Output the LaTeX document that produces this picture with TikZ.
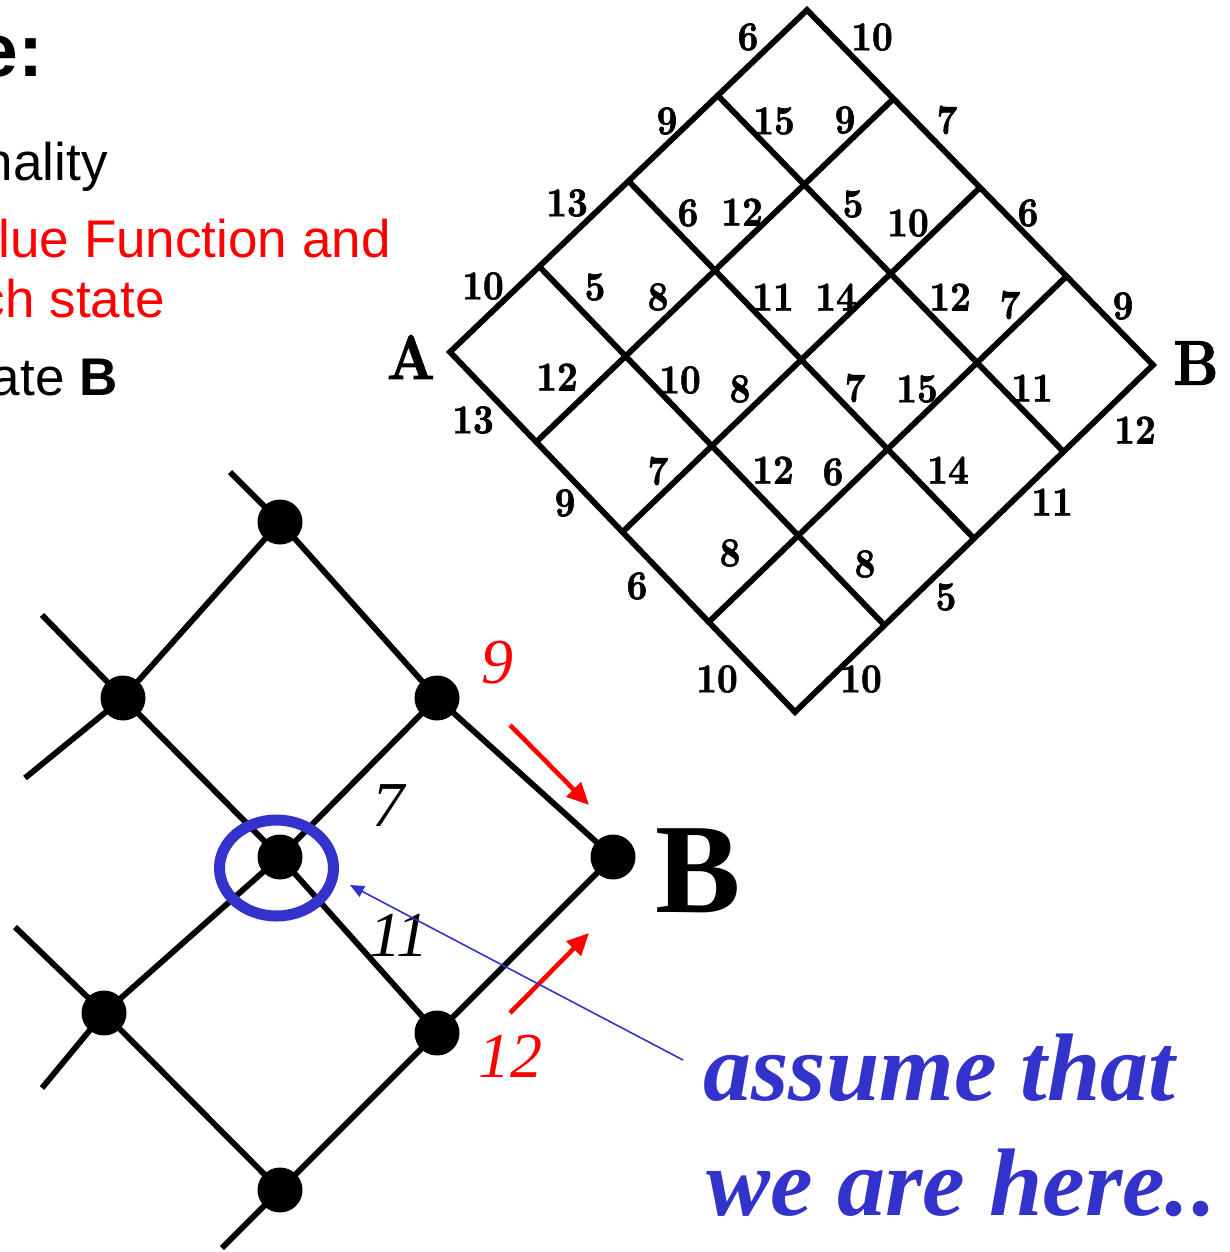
\documentclass[tikz,border=0pt]{standalone}
\usepackage{fontspec}
\usepackage{graphicx}
\usetikzlibrary{arrows.meta,shapes.geometric}
\newfontfamily\arialf{Liberation Sans}
\newfontfamily\timesf{Liberation Serif}
\newfontfamily\gridf{lmroman10-bold.otf}[FakeBold=1.6]
\definecolor{myblue}{RGB}{51,51,204}
\newcommand\gn[1]{\scalebox{0.88}[1]{#1}}
\begin{document}
\begin{tikzpicture}[x=0.5pt,y=-0.5pt,
  gridline/.style={line width=2.9pt, line join=miter},
  gnum/.style={inner sep=0pt, font=\gridf\fontsize{20.5}{24}\selectfont},
  cornerlbl/.style={inner sep=0pt, font=\gridf\fontsize{31.5}{36}\selectfont},
  dot/.style={circle, fill=black, inner sep=0pt, minimum size=22.5pt},
  edgeline/.style={line width=2.9pt},
  itnum/.style={inner sep=0pt, font=\timesf\itshape\fontsize{32}{36}\selectfont},
  redarrow/.style={draw=red, line width=2.3pt, -{Triangle[length=11pt,width=10pt]}},
  bluearrow/.style={draw=myblue, line width=0.8pt, -{Triangle[length=7pt,width=6pt]}},
  slide/.style={inner sep=0pt, font=\arialf\fontsize{26.5}{30}\selectfont, anchor=base east},
  bluetext/.style={inner sep=0pt, text=myblue, font=\timesf\bfseries\itshape\fontsize{48}{52}\selectfont, anchor=base west}]
\useasboundingbox (0,0) rectangle (1230,1252);
\clip (0,0) rectangle (1230,1252);

% ---------- slide text (cropped) ----------
\node[slide, font=\arialf\bfseries\fontsize{37.5}{40}\selectfont] (t0) at (44,76) {e:};
\node[slide] (t1) at (108,180) {nality};
\node[slide, text=red] (t2) at (391,257) {lue Function and};
\node[slide, text=red] (t3) at (165,317) {ch state};
\node[slide] (t4) at (118,395) {ate \textbf{B}};

% ---------- big grid ----------
\coordinate (L0) at (450,352);   \coordinate (L1) at (539.25,266.5);
\coordinate (L2) at (628.5,181); \coordinate (L3) at (717.75,95.5);
\coordinate (L4) at (807,10);
\coordinate (R0) at (795,712);   \coordinate (R1) at (884.5,625.25);
\coordinate (R2) at (974,538.5); \coordinate (R3) at (1063.5,451.75);
\coordinate (R4) at (1153,365);
\coordinate (P0) at (450,352);   \coordinate (P1) at (536.25,442);
\coordinate (P2) at (622.5,532); \coordinate (P3) at (708.75,622);
\coordinate (P4) at (795,712);
\coordinate (Q0) at (807,10);    \coordinate (Q1) at (893.5,98.75);
\coordinate (Q2) at (980,187.5); \coordinate (Q3) at (1066.5,276.25);
\coordinate (Q4) at (1153,365);

\draw[gridline] (L0) -- (L4) -- (Q4) -- (R0) -- cycle;
\draw[gridline] (L1) -- (R1) (L2) -- (R2) (L3) -- (R3);
\draw[gridline] (P1) -- (Q1) (P2) -- (Q2) (P3) -- (Q3);

\node[cornerlbl] (lA) at (411,357) {\gn{A}};
\node[cornerlbl] (lB) at (1196,363) {\gn{B}};

\node[gnum] (g1) at (748,37) {\gn{6}};
\node[gnum] (g2) at (872,37) {\gn{10}};
\node[gnum] (g3) at (667,121) {\gn{9}};
\node[gnum] (g4) at (774,121) {\gn{15}};
\node[gnum] (g5) at (845,120) {\gn{9}};
\node[gnum] (g6) at (947,120) {\gn{7}};
\node[gnum] (g7) at (567,203) {\gn{13}};
\node[gnum] (g8) at (688,213) {\gn{6}};
\node[gnum] (g9) at (742,212) {\gn{12}};
\node[gnum] (g10) at (853,204) {\gn{5}};
\node[gnum] (g11) at (908,223) {\gn{10}};
\node[gnum] (g12) at (1028,213) {\gn{6}};
\node[gnum] (g13) at (483,286) {\gn{10}};
\node[gnum] (g14) at (595,287) {\gn{5}};
\node[gnum] (g15) at (658,297) {\gn{8}};
\node[gnum] (g16) at (773,297) {\gn{11}};
\node[gnum] (g17) at (836,297) {\gn{14}};
\node[gnum] (g18) at (950,297) {\gn{12}};
\node[gnum] (g19) at (1010,305) {\gn{7}};
\node[gnum] (g20) at (1123,306) {\gn{9}};
\node[gnum] (g21) at (557,377) {\gn{12}};
\node[gnum] (g22) at (680,380) {\gn{10}};
\node[gnum] (g23) at (740,389) {\gn{8}};
\node[gnum] (g24) at (855,388) {\gn{7}};
\node[gnum] (g25) at (917,389) {\gn{15}};
\node[gnum] (g26) at (1032,388) {\gn{11}};
\node[gnum] (g27) at (473,420) {\gn{13}};
\node[gnum] (g28) at (1135,430) {\gn{12}};
\node[gnum] (g29) at (658,471) {\gn{7}};
\node[gnum] (g30) at (773,470) {\gn{12}};
\node[gnum] (g31) at (833,472) {\gn{6}};
\node[gnum] (g32) at (948,470) {\gn{14}};
\node[gnum] (g33) at (565,503) {\gn{9}};
\node[gnum] (g34) at (1052,502) {\gn{11}};
\node[gnum] (g35) at (730,553) {\gn{8}};
\node[gnum] (g36) at (865,564) {\gn{8}};
\node[gnum] (g37) at (637,586) {\gn{6}};
\node[gnum] (g38) at (946,597) {\gn{5}};
\node[gnum] (g39) at (717,679) {\gn{10}};
\node[gnum] (g40) at (861,679) {\gn{10}};

% ---------- small graph ----------
\node[dot] (n1) at (280,522) {};
\node[dot] (n2) at (123,698) {};
\node[dot] (n3) at (437,698) {};
\node[dot] (n4) at (280,857) {};
\node[dot] (nB) at (613,857) {};
\node[dot] (n5) at (104,1013) {};
\node[dot] (n6) at (437,1033) {};
\node[dot] (n7) at (280,1190) {};
\coordinate (e1) at (230,472);
\coordinate (e2) at (42,615);
\coordinate (e3) at (25,778);
\coordinate (e4) at (15,927);
\coordinate (e5) at (42,1088);
\coordinate (e6) at (222,1248);

\draw[edgeline] (e1) -- (n1.center) -- (n3.center) -- (nB.center);
\draw[edgeline] (n1.center) -- (n2.center) -- (e3);
\draw[edgeline] (e2) -- (n2.center) -- (n4.center) -- (n6.center);
\draw[edgeline] (n3.center) -- (n4.center) -- (n5.center) -- (e5);
\draw[edgeline] (e4) -- (n5.center) -- (n7.center) -- (e6);
\draw[edgeline] (nB.center) -- (n6.center) -- (n7.center);

\node[inner sep=0pt, anchor=base west, font=\timesf\bfseries\fontsize{64}{70}\selectfont] (bigB) at (655,912) {B};

\node[itnum, text=red] (w9) at (497,663) {9};
\node[itnum] (w7) at (388,806) {7};
\node[itnum] (w11) at (399,935) {11};
\node[itnum, text=red] (w12) at (510,1056) {12};

\coordinate (r1s) at (510,725); \coordinate (r1e) at (589,805);
\coordinate (r2s) at (510,1013); \coordinate (r2e) at (589,933);
\draw[redarrow] (r1s) -- (r1e);
\draw[redarrow] (r2s) -- (r2e);

\node[ellipse, draw=myblue, line width=5.5pt, inner sep=0pt,
      minimum width=57pt, minimum height=48pt] (here) at (276.5,868) {};

\node[bluetext] (bt1) at (703,1100) {assume that};
\node[bluetext] (bt2) at (706,1215) {we are here.\kern2pt.};
\coordinate (btail) at (683,1060);
\coordinate (btip) at (350,885);
\draw[bluearrow] (btail) -- (btip);
\end{tikzpicture}
\end{document}
